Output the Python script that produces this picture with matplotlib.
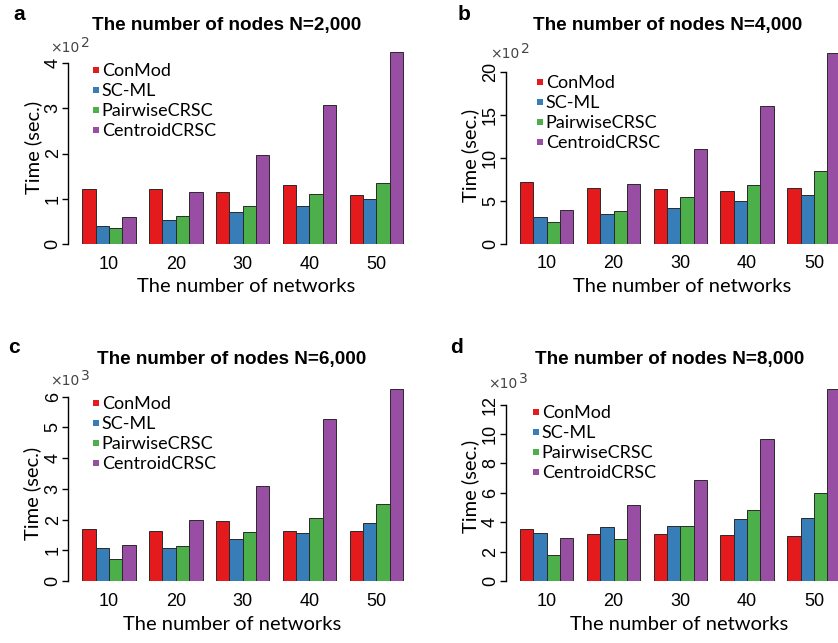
import matplotlib
matplotlib.use('Agg')
import matplotlib.pyplot as plt
from matplotlib.patches import Rectangle

W, H = 838, 643

networks = ['10', '20', '30', '40', '50']
methods = ['ConMod', 'SC-ML', 'PairwiseCRSC', 'CentroidCRSC']
colors = ['#E41A1C', '#377EB8', '#4DAF4A', '#984EA3']

# running time (sec.) for 10, 20, 30, 40, 50 networks
n2000_conmod = [121, 121, 116, 130, 108]
n2000_scml = [40, 53, 70, 85, 100]
n2000_pairwise = [35, 62, 83, 110, 135]
n2000_centroid = [60, 115, 197, 308, 424]

n4000_conmod = [714, 645, 633, 618, 645]
n4000_scml = [313, 347, 409, 490, 571]
n4000_pairwise = [251, 382, 537, 683, 846]
n4000_centroid = [394, 691, 1104, 1602, 2224]

n6000_conmod = [1700, 1640, 1960, 1620, 1620]
n6000_scml = [1080, 1080, 1360, 1550, 1880]
n6000_pairwise = [720, 1140, 1610, 2050, 2520]
n6000_centroid = [1170, 1980, 3090, 5270, 6240]

n8000_conmod = [3510, 3220, 3170, 3110, 3040]
n8000_scml = [3240, 3650, 3720, 4220, 4290]
n8000_pairwise = [1790, 2830, 3720, 4850, 6010]
n8000_centroid = [2950, 5190, 6850, 9660, 13060]

BAR_PX = 13.36
LABEL_FONT = 'Lato'
TICK_FONT = 'Liberation Sans'

# layout of each panel in pixels (x from left, y from top)
panels = [
    dict(letter='a', title='The number of nodes N=2,000', exp=2,
         series=[n2000_conmod, n2000_scml, n2000_pairwise, n2000_centroid],
         yticks=[0, 1, 2, 3, 4], ymax=4.4,
         spine=68.3, bar0=82.3, right=410, zero=244.0, top_tick=63.0,
         letter_xy=(13, 20), title_xy=(227, 30), exp_xy=(50, 51.7),
         ylab_xy=(33, 147), xlab_xy=(246, 287), leg_xy=(93, 69.7)),
    dict(letter='b', title='The number of nodes N=4,000', exp=2,
         series=[n4000_conmod, n4000_scml, n4000_pairwise, n4000_centroid],
         yticks=[0, 5, 10, 15, 20], ymax=23,
         spine=505.7, bar0=520.0, right=838, zero=243.5, top_tick=72.0,
         letter_xy=(458, 20), title_xy=(668, 30), exp_xy=(490, 58),
         ylab_xy=(470, 155), xlab_xy=(682, 287), leg_xy=(537, 81.7)),
    dict(letter='c', title='The number of nodes N=6,000', exp=3,
         series=[n6000_conmod, n6000_scml, n6000_pairwise, n6000_centroid],
         yticks=[0, 1, 2, 3, 4, 5, 6], ymax=6.5,
         spine=68.3, bar0=82.3, right=410, zero=581.0, top_tick=396.7,
         letter_xy=(8, 353), title_xy=(232, 364), exp_xy=(50, 385),
         ylab_xy=(32, 493), xlab_xy=(232, 625), leg_xy=(93, 402.7)),
    dict(letter='d', title='The number of nodes N=8,000', exp=3,
         series=[n8000_conmod, n8000_scml, n8000_pairwise, n8000_centroid],
         yticks=[0, 2, 4, 6, 8, 10, 12], ymax=13.5,
         spine=505.7, bar0=520.0, right=838, zero=581.0, top_tick=404.7,
         letter_xy=(450, 353), title_xy=(670, 364), exp_xy=(488, 388),
         ylab_xy=(470, 486), xlab_xy=(679, 625), leg_xy=(533, 411.7)),
]


def fx(px):
    return px / W


def fy(py):
    return 1 - py / H


fig = plt.figure(figsize=(W / 100, H / 100), dpi=100)

for p in panels:
    scale = 10 ** p['exp']
    ppu = (p['zero'] - p['top_tick']) / p['yticks'][-1]
    height = p['ymax'] * ppu
    ax = fig.add_axes([fx(p['spine']), fy(p['zero']),
                       (p['right'] - p['spine']) / W, height / H])
    ax.patch.set_visible(False)

    for k, (vals, color) in enumerate(zip(p['series'], colors)):
        xs = [5 * g + k + 0.5 for g in range(len(networks))]
        ax.bar(xs, [v / scale for v in vals], width=1.0, color=color,
               edgecolor='#2a2a2a', linewidth=0.7, label=methods[k])

    ax.set_xlim(-(p['bar0'] - p['spine']) / BAR_PX,
                (p['right'] - p['bar0']) / BAR_PX)
    ax.set_ylim(0, p['ymax'])
    ax.set_xticks([5 * g + 2 for g in range(len(networks))], networks)
    ax.set_yticks(p['yticks'])
    ax.tick_params(axis='x', length=0, pad=8.3, labelsize=13)
    ax.tick_params(axis='y', length=4, width=1, pad=0.8, labelsize=13,
                   direction='out')
    for lab in ax.get_xticklabels() + ax.get_yticklabels():
        lab.set_fontfamily(TICK_FONT)
    for lab in ax.get_yticklabels():
        lab.set_rotation(90)
        lab.set_va('center')
    for side in ['top', 'right', 'bottom']:
        ax.spines[side].set_visible(False)
    ax.spines['left'].set_bounds(0, p['yticks'][-1])
    ax.spines['left'].set_linewidth(1)

    # panel letter and title
    lx, ly = p['letter_xy']
    fig.text(fx(lx), fy(ly), p['letter'], fontsize=15, fontweight='bold',
             family=TICK_FONT, va='baseline')
    tx, ty = p['title_xy']
    fig.text(fx(tx), fy(ty), p['title'], fontsize=13.6, fontweight='bold',
             family=TICK_FONT, ha='center', va='baseline')

    # axis multiplier, e.g. x10^2, with a raised full-size exponent
    ex, ey = p['exp_xy']
    fig.text(fx(ex), fy(ey), '\u00d710', fontsize=10, color='#444444',
             family='DejaVu Sans', va='baseline')
    fig.text(fx(ex + 31), fy(ey - 5), str(p['exp']), fontsize=10,
             color='#444444', family='DejaVu Sans', va='baseline')

    yx, yy = p['ylab_xy']
    fig.text(fx(yx), fy(yy), 'Time (sec.)', rotation=90, fontsize=14.5,
             family=LABEL_FONT, ha='center', va='center')
    xx, xy = p['xlab_xy']
    fig.text(fx(xx), fy(xy), 'The number of networks', fontsize=14.5,
             family=LABEL_FONT, ha='center', va='center')

    # legend: small squares with labels
    sx, sy = p['leg_xy']
    for i, (name, color) in enumerate(zip(methods, colors)):
        cy = sy + i * 20
        fig.add_artist(Rectangle((fx(sx), fy(cy + 3)), 6 / W, 6 / H,
                                 transform=fig.transFigure, color=color,
                                 linewidth=0))
        fig.text(fx(sx + 8.7), fy(cy + 6.3), name, fontsize=13,
                 family=LABEL_FONT, va='baseline')

fig.savefig('out.png', dpi=100)
